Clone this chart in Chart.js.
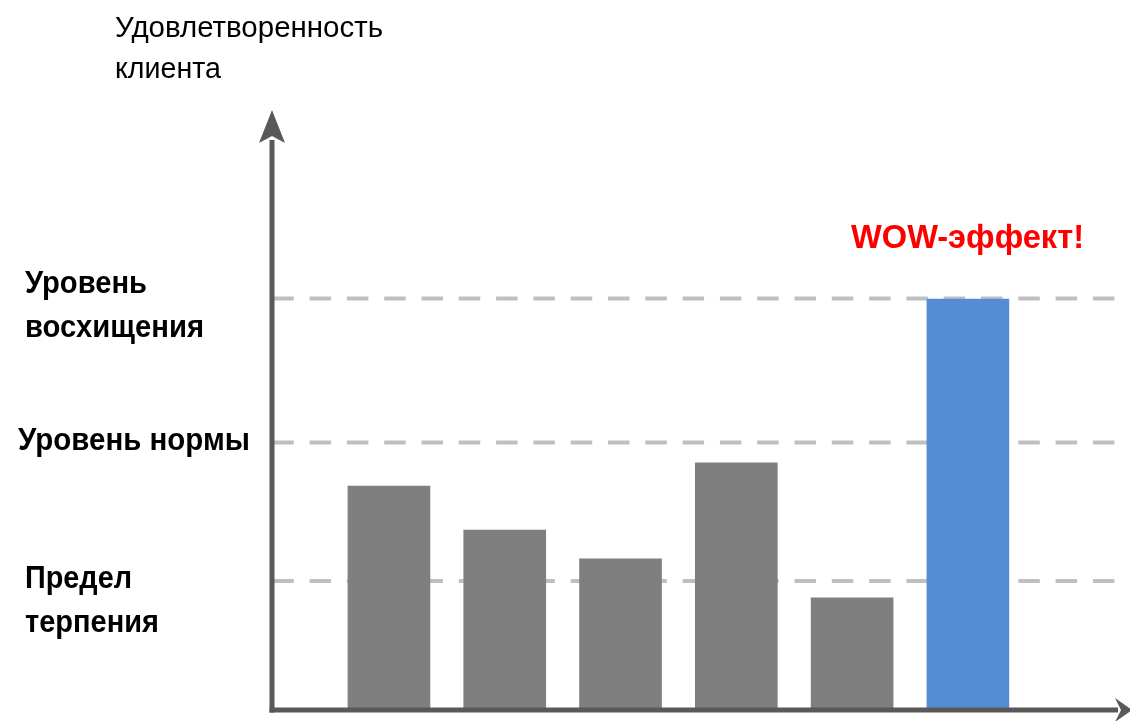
<!DOCTYPE html>
<html lang="ru">
<head>
<meta charset="utf-8">
<title>Удовлетворенность клиента</title>
<script src="https://cdn.jsdelivr.net/npm/chart.js@4/dist/chart.umd.min.js"></script>
<style>
  html, body { margin: 0; padding: 0; background: #ffffff; }
  #wrap { position: relative; width: 1130px; height: 721px; }
</style>
</head>
<body>
<div id="wrap"><canvas id="chart"></canvas></div>
<script>
// Stages of customer contact, in order along the horizontal axis
const stages = [1, 2, 3, 4, 5, 6];
// Customer satisfaction reached at each stage
const satisfaction = [37.3, 30, 25.2, 41.2, 18.7, 68.5];
// Which stage produced the WOW effect
const highlightIndex = 5;

// Reference levels of satisfaction (dashed lines) and their captions
const levelValues = [21.5, 44.6, 68.6];
const levelCaptions = [
  ['Предел', 'терпения'],
  ['Уровень нормы'],
  ['Уровень', 'восхищения']
];

const axisTitle = ['Удовлетворенность', 'клиента'];
const wowText = 'WOW-эффект!';

const GRAY = '#7f7f7f';
const BLUE = '#548dd4';
const AXIS = '#595959';
const DASH = '#bfbfbf';
const FONT = '"Liberation Sans", Arial, Helvetica, sans-serif';

// Draws a line of text squeezed horizontally to a set width (narrow face)
function fitText(ctx, text, x, baseline, width) {
  const w = ctx.measureText(text).width;
  ctx.save();
  ctx.translate(x, baseline);
  ctx.scale(width / w, 1);
  ctx.fillText(text, 0, 0);
  ctx.restore();
}

// Dashed reference levels, drawn beneath the bars
const levelLines = {
  id: 'levelLines',
  beforeDatasetsDraw(chart) {
    const { ctx, scales: { y } } = chart;
    const x0 = chart.chartArea.left;
    ctx.save();
    ctx.strokeStyle = DASH;
    ctx.lineWidth = 4;
    ctx.setLineDash([21.5, 15.8]);
    levelValues.forEach(v => {
      const py = y.getPixelForValue(v);
      ctx.beginPath();
      ctx.moveTo(x0 + 0.3, py);
      ctx.lineTo(x0 + 843, py);
      ctx.stroke();
    });
    ctx.restore();
  }
};

// Axes with arrowheads and all captions, drawn above the bars
const axesAndText = {
  id: 'axesAndText',
  afterDatasetsDraw(chart) {
    const { ctx, chartArea: a, scales: { y } } = chart;
    const ox = a.left, oy = y.getPixelForValue(0);
    ctx.save();
    ctx.setLineDash([]);
    ctx.strokeStyle = AXIS;
    ctx.fillStyle = AXIS;
    ctx.lineWidth = 5;
    ctx.lineCap = 'butt';

    // vertical axis
    ctx.beginPath();
    ctx.moveTo(ox, oy + 2.5);
    ctx.lineTo(ox, a.top + 30);
    ctx.stroke();
    ctx.beginPath();
    ctx.moveTo(ox, a.top);
    ctx.lineTo(ox + 13, a.top + 33);
    ctx.lineTo(ox, a.top + 26);
    ctx.lineTo(ox - 13, a.top + 33);
    ctx.closePath();
    ctx.fill();

    // horizontal axis
    ctx.beginPath();
    ctx.moveTo(ox - 2.5, oy);
    ctx.lineTo(a.right - 12, oy);
    ctx.stroke();
    ctx.beginPath();
    ctx.moveTo(a.right + 2, oy);
    ctx.lineTo(a.right - 15, oy - 12);
    ctx.lineTo(a.right - 9, oy);
    ctx.lineTo(a.right - 15, oy + 12);
    ctx.closePath();
    ctx.fill();

    // axis title
    ctx.fillStyle = '#000000';
    ctx.textAlign = 'left';
    ctx.textBaseline = 'alphabetic';
    ctx.font = '30px ' + FONT;
    fitText(ctx, axisTitle[0], 115, 37, 268);
    fitText(ctx, axisTitle[1], 115, 78, 106);

    // level captions
    ctx.font = 'bold 31px ' + FONT;
    const captionPos = [
      { x: 25, base: [588, 632], w: [107, 134] },
      { x: 18, base: [450], w: [232] },
      { x: 25, base: [293, 337], w: [122, 179] }
    ];
    levelCaptions.forEach((lines, i) => {
      const p = captionPos[i];
      lines.forEach((t, j) => fitText(ctx, t, p.x, p.base[j], p.w[j]));
    });

    // WOW caption
    ctx.fillStyle = '#ff0000';
    ctx.font = 'bold 34px ' + FONT;
    fitText(ctx, wowText, 851, 248, 233);
    ctx.restore();
  }
};

new Chart(document.getElementById('chart'), {
  type: 'bar',
  data: {
    datasets: [{
      data: stages.map((s, i) => ({ x: s, y: satisfaction[i] })),
      backgroundColor: satisfaction.map((_, i) => i === highlightIndex ? BLUE : GRAY),
      borderWidth: 0,
      barThickness: 82
    }]
  },
  options: {
    responsive: true,
    maintainAspectRatio: false,
    animation: false,
    layout: { padding: { top: 110, left: 272, right: 0, bottom: 11 } },
    plugins: { legend: { display: false }, tooltip: { enabled: false } },
    scales: {
      x: { type: 'linear', offset: false, min: -0.01, max: 7.4, display: false, grid: { display: false } },
      y: { min: 0, max: 100, display: false, grid: { display: false } }
    }
  },
  plugins: [levelLines, axesAndText]
});
</script>
</body>
</html>
